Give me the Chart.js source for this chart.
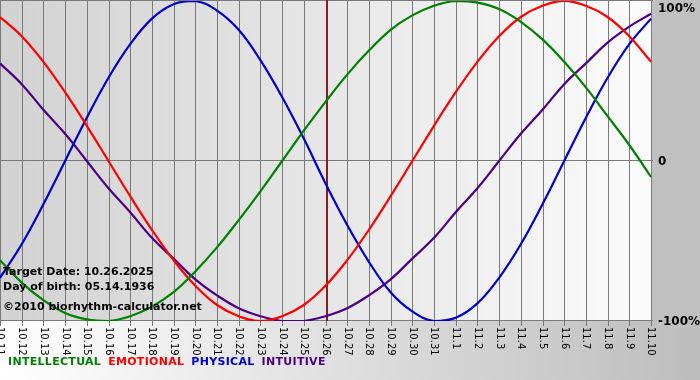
<!DOCTYPE html>
<html>
<head>
<meta charset="utf-8">
<script src="https://cdn.jsdelivr.net/npm/chart.js@4/dist/chart.umd.min.js"></script>
<style>
  html, body { margin: 0; padding: 0; background: #fff; }
  #wrap { width: 700px; height: 380px; }
</style>
</head>
<body>
<div id="wrap"><canvas id="bio" width="700" height="380"></canvas></div>
<script>
// ── data (percent, one value per day) ──
const days = ['10.11','10.12','10.13','10.14','10.15','10.16','10.17','10.18','10.19','10.20',
  '10.21','10.22','10.23','10.24','10.25','10.26','10.27','10.28','10.29','10.30','10.31',
  '11.1','11.2','11.3','11.4','11.5','11.6','11.7','11.8','11.9','11.10'];
const physical = [-73, -52, -27, 0, 27, 52, 73, 89, 98, 100, 94, 82, 63, 40, 14, -14, -40, -63, -82, -94, -100, -98, -89, -73, -52, -27, 0, 27, 52, 73, 89];
const emotional = [90, 78, 62, 43, 22, 0, -22, -43, -62, -78, -90, -97, -100, -97, -90, -78, -62, -43, -22, 0, 22, 43, 62, 78, 90, 97, 100, 97, 90, 78, 62];
const intellectual = [-62, -76, -87, -95, -99, -100, -97, -91, -82, -69, -54, -37, -19, 0, 19, 37, 54, 69, 82, 91, 97, 100, 99, 95, 87, 76, 62, 46, 28, 10, -10];
const intuitive = [61, 48, 32, 17, 0, -17, -32, -48, -61, -74, -84, -92, -97, -100, -100, -97, -92, -84, -74, -61, -48, -32, -17, 0, 17, 32, 48, 61, 74, 84, 92];
const yTicks = [100, 0, -100];
const yTickLabels = ['100%', '0', '-100%'];
const targetDay = '10.26';
const infoLines = ['Target Date: 10.26.2025', 'Day of birth: 05.14.1936', '\u00a92010 biorhythm-calculator.net'];
const legendNames = ['INTELLECTUAL', 'EMOTIONAL', 'PHYSICAL', 'INTUITIVE'];

const C_INT = '#008000', C_EMO = '#ff0000', C_PHY = '#0000cc', C_ITU = '#4b0082';
const FONT = 'DejaVu Sans';

// backgrounds, grid, target line
const backdrop = {
  id: 'backdrop',
  beforeDraw(chart) {
    const { ctx, chartArea: a, scales: { x, y } } = chart;
    ctx.save();
    let g = ctx.createLinearGradient(0, 0, chart.width, 0);
    g.addColorStop(0, '#ffffff');
    g.addColorStop(1, '#bdbdbd');
    ctx.fillStyle = g;
    ctx.fillRect(0, 0, chart.width, chart.height);
    ctx.fillStyle = '#c0c0c0';
    ctx.fillRect(a.right, 0, chart.width - a.right, a.bottom);

    g = ctx.createLinearGradient(a.left, 0, a.right, 0);
    g.addColorStop(0, '#d2d2d2');
    g.addColorStop(1, '#fbfbfb');
    ctx.fillStyle = g;
    ctx.fillRect(a.left, 0, a.right - a.left, a.bottom);

    ctx.strokeStyle = '#7a7a7a';
    ctx.lineWidth = 1;
    days.forEach((d, i) => {
      const px = Math.round(x.getPixelForValue(i)) + 0.5;
      ctx.beginPath();
      ctx.moveTo(px, 0);
      ctx.lineTo(px, a.bottom + 5);
      ctx.stroke();
    });
    yTicks.forEach(t => {
      const py = Math.round(y.getPixelForValue(t)) - 0.5;
      ctx.beginPath();
      ctx.moveTo(a.left, Math.max(py, 0.5));
      ctx.lineTo(a.right + 2, Math.max(py, 0.5));
      ctx.stroke();
    });

    const tx = Math.round(x.getPixelForValue(days.indexOf(targetDay))) + 1;
    ctx.strokeStyle = '#802020';
    ctx.lineWidth = 2;
    ctx.beginPath();
    ctx.moveTo(tx, 0);
    ctx.lineTo(tx, a.bottom);
    ctx.stroke();
    ctx.restore();
  },
  afterDatasetsDraw(chart) {
    const { ctx, chartArea: a, scales: { x, y } } = chart;
    ctx.save();
    // info text
    ctx.fillStyle = '#000';
    ctx.font = 'bold 11px ' + FONT;
    ctx.textBaseline = 'middle';
    ctx.textAlign = 'left';
    ctx.fillText(infoLines[0], 3, 272);
    ctx.fillText(infoLines[1], 3, 287);
    ctx.fillText(infoLines[2], 3, 307);

    // y labels on the right
    ctx.font = 'bold 12px ' + FONT;
    yTicks.forEach((t, i) => {
      let py = y.getPixelForValue(t);
      if (i === 0) py += 7;
      ctx.fillText(yTickLabels[i], a.right + 7, py + 1);
    });

    // rotated date labels
    ctx.font = '10px ' + FONT;
    ctx.fillStyle = '#000';
    days.forEach((d, i) => {
      const px = x.getPixelForValue(i);
      ctx.save();
      ctx.translate(px, a.bottom + 6);
      ctx.rotate(Math.PI / 2);
      ctx.textAlign = 'left';
      ctx.textBaseline = 'middle';
      ctx.fillText(d, 0, 0);
      ctx.restore();
    });

    // legend row
    ctx.font = 'bold 11px ' + FONT;
    ctx.letterSpacing = '0.3px';
    const cols = [C_INT, C_EMO, C_PHY, C_ITU];
    let lx = 8;
    legendNames.forEach((n, i) => {
      ctx.fillStyle = cols[i];
      ctx.fillText(n, lx, 362);
      lx += ctx.measureText(n).width + 7;
    });
    ctx.restore();
  }
};

const line = (data, color) => ({
  data, borderColor: color, borderWidth: 2.2, pointRadius: 0,
  tension: 0.4, fill: false
});

new Chart(document.getElementById('bio'), {
  type: 'line',
  data: {
    labels: days,
    datasets: [
      line(intellectual, C_INT),
      line(emotional, C_EMO),
      line(physical, C_PHY),
      line(intuitive, C_ITU)
    ]
  },
  options: {
    responsive: false,
    animation: false,
    layout: { padding: { left: 0, right: 49, top: 1, bottom: 59 } },
    plugins: { legend: { display: false }, tooltip: { enabled: false } },
    scales: {
      x: { display: false, offset: false },
      y: { display: false, min: -100, max: 100 }
    }
  },
  plugins: [backdrop]
});
</script>
</body>
</html>
